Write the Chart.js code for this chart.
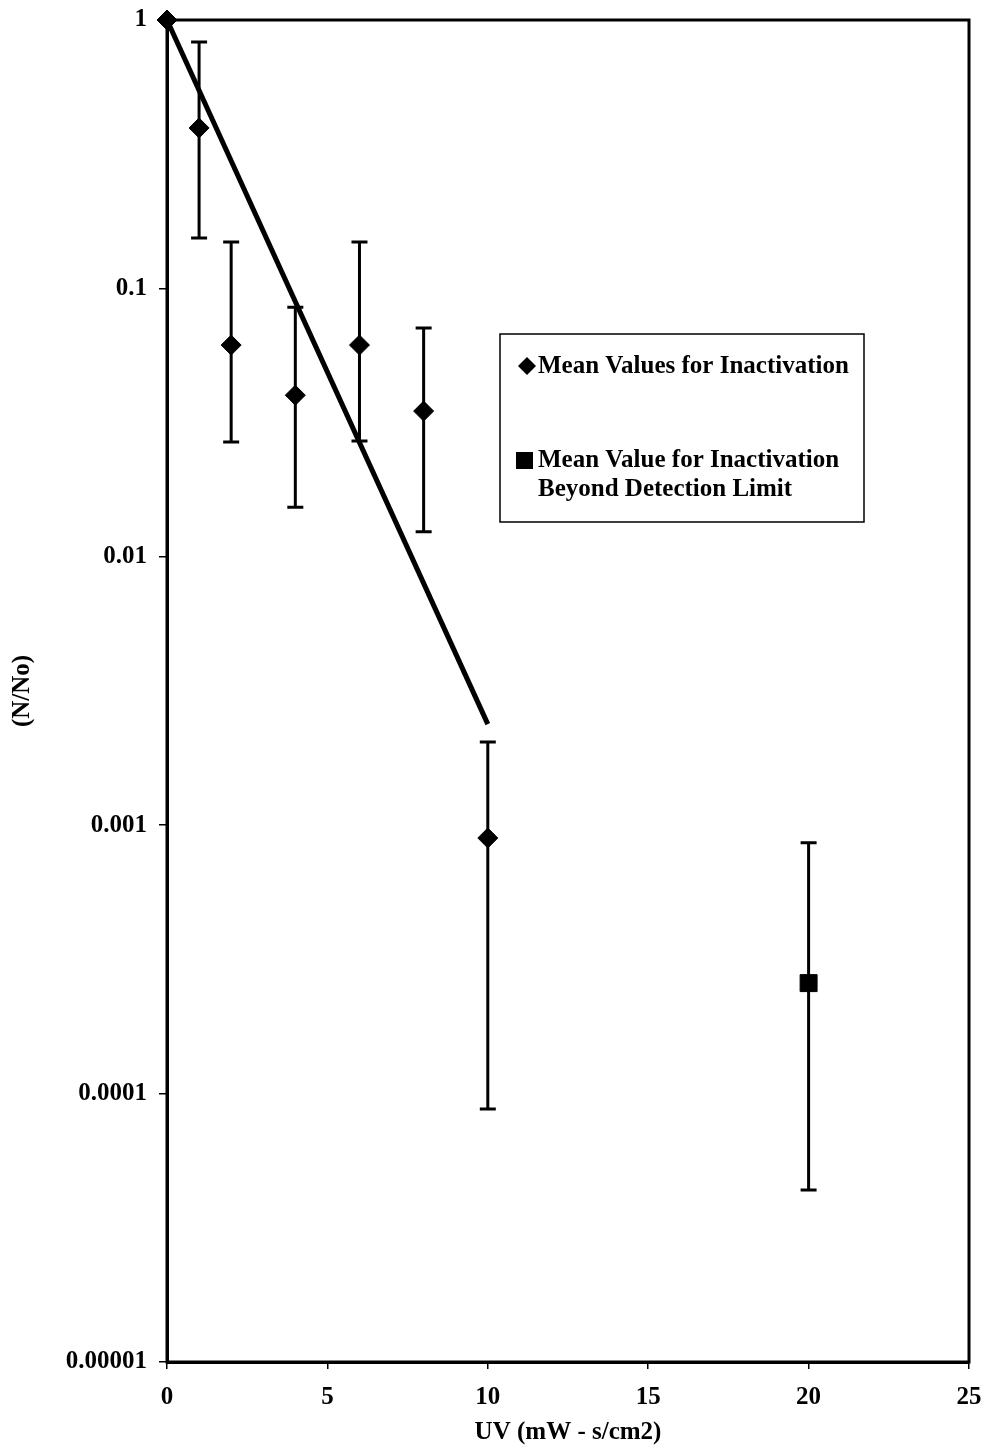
<!DOCTYPE html>
<html>
<head>
<meta charset="utf-8">
<script src="https://cdn.jsdelivr.net/npm/chart.js@4/dist/chart.umd.min.js"></script>
<style>
  body { margin: 0; background: #fff; }
  #wrap { width: 987px; height: 1450px; }
</style>
</head>
<body>
<div id="wrap"><canvas id="myChart" width="987" height="1450"></canvas></div>
<script>
// UV dose (mW - s/cm2) and mean survival N/No
const uvDose = [0, 1, 2, 4, 6, 8, 10];
const meanNN = [1, 0.396, 0.0615, 0.040, 0.0615, 0.0349, 0.000896];

// error bars for the mean values
const errX = [1, 2, 4, 6, 8, 10];
const errHigh = [0.828, 0.149, 0.085, 0.149, 0.0712, 0.00204];
const errLow = [0.154, 0.0268, 0.0153, 0.027, 0.0124, 0.0000877];

// point beyond detection limit
const beyondX = [20];
const beyondY = [0.000258];
const beyondHigh = [0.00086];
const beyondLow = [0.0000437];

// fitted line
const fitX = [0, 10];
const fitY = [1, 0.00238];

const xTicks = [0, 5, 10, 15, 20, 25];
const yTicks = [1, 0.1, 0.01, 0.001, 0.0001, 0.00001];
const yTickLabels = ["1", "0.1", "0.01", "0.001", "0.0001", "0.00001"];

const FONT = "'Liberation Serif', 'Times New Roman', serif";

const errorBars = {
  id: "errorBars",
  beforeDatasetsDraw(chart) {
    const ctx = chart.ctx;
    const x = chart.scales.x;
    const y = chart.scales.y;
    const bars = [];
    errX.forEach((v, i) => bars.push([v, errLow[i], errHigh[i]]));
    beyondX.forEach((v, i) => bars.push([v, beyondLow[i], beyondHigh[i]]));
    ctx.save();
    ctx.strokeStyle = "#000";
    ctx.lineWidth = 3;
    for (const b of bars) {
      const px = x.getPixelForValue(b[0]);
      const lo = y.getPixelForValue(b[1]);
      const hi = y.getPixelForValue(b[2]);
      ctx.beginPath();
      ctx.moveTo(px, lo);
      ctx.lineTo(px, hi);
      ctx.moveTo(px - 8, lo);
      ctx.lineTo(px + 8, lo);
      ctx.moveTo(px - 8, hi);
      ctx.lineTo(px + 8, hi);
      ctx.stroke();
    }
    ctx.restore();
  },
};

const frameAndLegend = {
  id: "frameAndLegend",
  afterDraw(chart) {
    const ctx = chart.ctx;
    const a = chart.chartArea;
    ctx.save();
    ctx.strokeStyle = "#000";
    ctx.lineWidth = 3;
    ctx.strokeRect(a.left, a.top, a.right - a.left, a.bottom - a.top);

    // legend box
    ctx.lineWidth = 1.5;
    ctx.strokeRect(500, 334, 364, 188);
    ctx.fillStyle = "#000";
    // diamond
    ctx.beginPath();
    ctx.moveTo(527, 357);
    ctx.lineTo(536, 366);
    ctx.lineTo(527, 375);
    ctx.lineTo(518, 366);
    ctx.closePath();
    ctx.fill();
    // square
    ctx.fillRect(516, 452, 17, 17);

    ctx.font = "bold 25px " + FONT;
    ctx.textAlign = "left";
    ctx.textBaseline = "middle";
    ctx.fillText("Mean Values for Inactivation", 538, 367);
    ctx.fillText("Mean Value for Inactivation", 538, 461);
    ctx.fillText("Beyond Detection Limit", 538, 490);
    ctx.restore();
  },
};

new Chart(document.getElementById("myChart"), {
  type: "scatter",
  data: {
    datasets: [
      {
        label: "Fit",
        data: fitX.map((v, i) => ({ x: v, y: fitY[i] })),
        showLine: true,
        borderColor: "#000",
        borderWidth: 5,
        pointRadius: 0,
        clip: false,
        order: 3,
      },
      {
        label: "Mean Values for Inactivation",
        data: uvDose.map((v, i) => ({ x: v, y: meanNN[i] })),
        pointStyle: "rectRot",
        pointRadius: 10,
        backgroundColor: "#000",
        borderColor: "#000",
        clip: false,
        order: 1,
      },
      {
        label: "Mean Value for Inactivation Beyond Detection Limit",
        data: beyondX.map((v, i) => ({ x: v, y: beyondY[i] })),
        pointStyle: "rect",
        pointRadius: 12,
        backgroundColor: "#000",
        borderColor: "#000",
        clip: false,
        order: 2,
      },
    ],
  },
  options: {
    responsive: false,
    devicePixelRatio: 1,
    animation: false,
    layout: { padding: { top: 20, right: 18, left: 0, bottom: 0 } },
    scales: {
      x: {
        type: "linear",
        min: 0,
        max: 25,
        afterBuildTicks: (scale) => {
          scale.ticks = xTicks.map((v) => ({ value: v }));
        },
        afterFit: (scale) => {
          scale.height = 88;
          scale.paddingLeft = 0;
          scale.paddingRight = 0;
        },
        grid: {
          drawOnChartArea: false,
          drawTicks: true,
          tickLength: 7,
          color: "#000",
          lineWidth: 1.5,
        },
        border: { display: true, color: "#000", width: 3 },
        ticks: {
          color: "#000",
          padding: 14,
          maxRotation: 0,
          font: { family: FONT, size: 25, weight: "bold" },
        },
        title: {
          display: true,
          text: "UV (mW - s/cm2)",
          color: "#000",
          padding: { top: 0, bottom: 2 },
          font: { family: FONT, size: 25, weight: "bold" },
        },
      },
      y: {
        type: "logarithmic",
        min: 0.00001,
        max: 1,
        afterBuildTicks: (scale) => {
          scale.ticks = yTicks.map((v) => ({ value: v }));
        },
        afterFit: (scale) => {
          scale.width = 167;
          scale.paddingTop = 0;
          scale.paddingBottom = 0;
        },
        grid: {
          drawOnChartArea: false,
          drawTicks: true,
          tickLength: 8,
          color: "#000",
          lineWidth: 1.5,
        },
        border: { display: true, color: "#000", width: 3 },
        ticks: {
          color: "#000",
          padding: 12,
          font: { family: FONT, size: 25, weight: "bold" },
          callback: (value) => {
            const i = yTicks.findIndex((t) => Math.abs(t - value) / t < 1e-6);
            return i >= 0 ? yTickLabels[i] : "";
          },
        },
        title: {
          display: true,
          text: "(N/No)",
          color: "#000",
          padding: { top: 8, bottom: 0 },
          font: { family: FONT, size: 25, weight: "bold" },
        },
      },
    },
    plugins: {
      legend: { display: false },
      tooltip: { enabled: false },
    },
  },
  plugins: [errorBars, frameAndLegend],
});
</script>
</body>
</html>
